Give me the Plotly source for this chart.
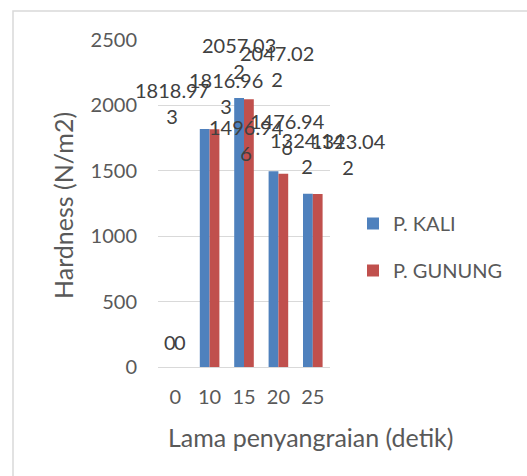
import plotly.graph_objects as go

categories = ["0", "10", "15", "20", "25"]
kali_values = [0, 1818.973, 2057.032, 1496.946, 1324.142]
gunung_values = [0, 1816.963, 2047.022, 1476.946, 1323.042]
series_names = ["P. KALI", "P. GUNUNG"]
y_ticks = [0, 500, 1000, 1500, 2000, 2500]
x_title = "Lama penyangraian (detik)"
y_title = "Hardness (N/m2)"

# label placement offsets (pixels), style only
kali_label_shift = [(0, 25), (-33, 26), (0, 40), (-27, 31), (0, 41)]
gunung_label_shift = [(0, 25), (11, 36), (28, 33), (4, 40), (31, 40)]

FONT = "Lato"
FS = 20
FS_T = 25

L, R, T, B = 158, 197, 40, 109
W, H = 527, 476
pw = W - L - R
ph = H - T - B
BAR_HALF = 4.9  # px distance of bar centre from category centre

fig = go.Figure()
fig.add_trace(go.Bar(x=categories, y=kali_values, name=series_names[0],
                     marker=dict(color="#4F81BD", line=dict(width=0)),
                     legendgroup="a"))
fig.add_trace(go.Bar(x=categories, y=gunung_values, name=series_names[1],
                     marker=dict(color="#C0504D", line=dict(width=0)),
                     legendgroup="b"))


def fmt(v):
    if v == 0:
        return "0"
    s = f"{v:.3f}"
    if len(s) > 7:
        return s[:7] + "<br>" + s[7:]
    return s


for vals, shifts, sign in [(kali_values, kali_label_shift, -1), (gunung_values, gunung_label_shift, 1)]:
    for i, v in enumerate(vals):
        dx, dy = shifts[i]
        # on a category axis a numeric x is the category index
        fig.add_annotation(x=i, y=v, xref="x", yref="y",
                           text=fmt(v), showarrow=False,
                           xanchor="center", yanchor="middle",
                           xshift=dx + sign * BAR_HALF, yshift=dy,
                           font=dict(family=FONT, size=FS, color="#404040"))

# axis titles
fig.add_annotation(xref="paper", yref="paper", x=(310 - L) / pw, y=(H - B - 437) / ph,
                   text=x_title, showarrow=False, xanchor="center", yanchor="middle",
                   font=dict(family=FONT, size=FS_T, color="#595959"))
fig.add_annotation(xref="paper", yref="paper", x=(63 - L) / pw, y=(H - B - 206) / ph,
                   text=y_title, showarrow=False, xanchor="center", yanchor="middle",
                   textangle=-90,
                   font=dict(family=FONT, size=FS_T, color="#595959"))

# chart border (cut off at right/bottom)
fig.add_shape(type="rect", xref="paper", yref="paper",
              x0=(13 - L) / pw, x1=(W + 20 - L) / pw,
              y0=-(B + 20) / ph, y1=(H - B - 11) / ph,
              line=dict(color="#D9D9D9", width=1.5), fillcolor="rgba(0,0,0,0)", layer="below")

fig.update_layout(
    width=W, height=H,
    margin=dict(l=L, r=R, t=T, b=B),
    paper_bgcolor="white", plot_bgcolor="white",
    barmode="group", bargap=0.43, bargroupgap=0,
    font=dict(family=FONT, size=FS, color="#595959"),
    showlegend=True,
    legend=dict(x=(353 - L) / pw, y=(H - B - 204) / ph, xanchor="left", yanchor="top",
                traceorder="grouped", tracegroupgap=18,
                font=dict(family=FONT, size=FS, color="#595959"),
                bgcolor="rgba(0,0,0,0)"),
    xaxis=dict(type="category", categoryorder="array", categoryarray=categories,
               range=[-0.5, 4.5],
               showgrid=False, showline=False, zeroline=False,
               ticks="", ticklabelstandoff=16,
               tickfont=dict(family=FONT, size=FS, color="#595959")),
    yaxis=dict(range=[0, 2500], tickvals=y_ticks, showgrid=True, gridcolor="#D9D9D9",
               gridwidth=1, zeroline=True, zerolinecolor="#D9D9D9", zerolinewidth=1,
               showline=False, ticks="", ticklabelstandoff=20,
               tickfont=dict(family=FONT, size=FS, color="#595959")),
)

fig.write_html("out.html", config={"displayModeBar": False},
               post_script="document.body.style.margin='0';document.body.style.overflow='hidden';")
